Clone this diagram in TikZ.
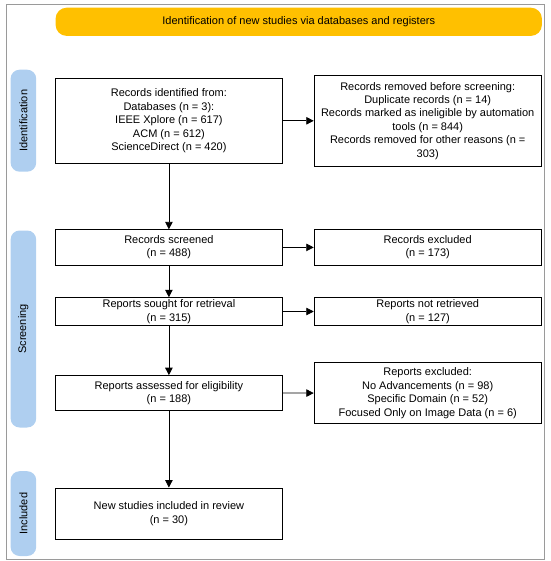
\documentclass[tikz,border=0pt]{standalone}
\usepackage{fontspec}
\setmainfont{Liberation Sans}
\usetikzlibrary{arrows.meta}
\definecolor{gold}{HTML}{FFC000}
\definecolor{phase}{HTML}{AFCFF0}
\definecolor{framegray}{HTML}{9A9A9A}
\tikzset{
  box/.style={draw=black, line width=0.9pt, fill=white, align=center, inner sep=0pt,
    font=\fontsize{11}{13.4}\selectfont},
  phaselabel/.style={fill=phase, rounded corners=9pt, inner sep=0pt, rotate=90,
    minimum height=25.6pt, font=\fontsize{11}{13.4}\selectfont},
  arr/.style={-{Triangle[length=7.5pt,width=7.5pt]}, line width=0.8pt}
}
\begin{document}
\begin{tikzpicture}[x=1pt,y=-1pt]
\useasboundingbox (0,0) rectangle (550,561);
\draw[framegray, line width=1pt] (6.3,4.9) rectangle (544.3,559.5);
\node[fill=gold, rounded corners=11pt, minimum width=486.3pt, minimum height=28.2pt, inner sep=0pt,
  font=\fontsize{11}{13.4}\selectfont] (banner) at (298.75,21.8) {Identification of new studies via databases and registers};

\node[phaselabel, minimum width=102pt] (lid) at (23.4,120.7) {Identification};
\node[phaselabel, minimum width=197pt] (lsc) at (23.4,329) {Screening};
\node[phaselabel, minimum width=84.8pt] (lin) at (23.4,513.6) {Included};

\node[box, minimum width=226.6pt, minimum height=85.5pt] (ident) at (168.9,120.85)
  {Records identified from:\\Databases (n = 3):\\IEEE Xplore (n = 617)\\ACM (n = 612)\\ScienceDirect (n = 420)};
\node[box, minimum width=227pt, minimum height=90.4pt] (removed) at (427.7,120.8)
  {Records removed before screening:\\Duplicate records (n = 14)\\Records marked as ineligible by automation\\tools (n = 844)\\Records removed for other reasons (n =\\303)};
\node[box, minimum width=226.6pt, minimum height=35.2pt] (screened) at (168.9,247.4)
  {Records screened\\(n = 488)};
\node[box, minimum width=227pt, minimum height=35.2pt] (excluded) at (427.7,247.4)
  {Records excluded\\(n = 173)};
\node[box, minimum width=226.6pt, minimum height=27.6pt] (sought) at (168.9,311.5)
  {Reports sought for retrieval\\(n = 315)};
\node[box, minimum width=227pt, minimum height=27.6pt] (notret) at (427.7,311.5)
  {Reports not retrieved\\(n = 127)};
\node[box, minimum width=226.6pt, minimum height=34.5pt] (assessed) at (168.9,392.85)
  {Reports assessed for eligibility\\(n = 188)};
\node[box, minimum width=227pt, minimum height=61.3pt] (repexcl) at (427.7,393.25)
  {Reports excluded:\\No Advancements (n = 98)\\Specific Domain (n = 52)\\Focused Only on Image Data (n = 6)};
\node[box, minimum width=226.6pt, minimum height=51pt] (included) at (168.9,513.5)
  {New studies included in review\\(n = 30)};

\draw[arr] (ident) -- (screened);
\draw[arr] (screened) -- (sought);
\draw[arr] (sought) -- (assessed);
\draw[arr] (assessed) -- (included);
\draw[arr] (ident.east |- removed.west) -- (removed.west);
\draw[arr] (screened) -- (excluded);
\draw[arr] (sought) -- (notret);
\draw[arr] (assessed) -- (repexcl);
\end{tikzpicture}
\end{document}
